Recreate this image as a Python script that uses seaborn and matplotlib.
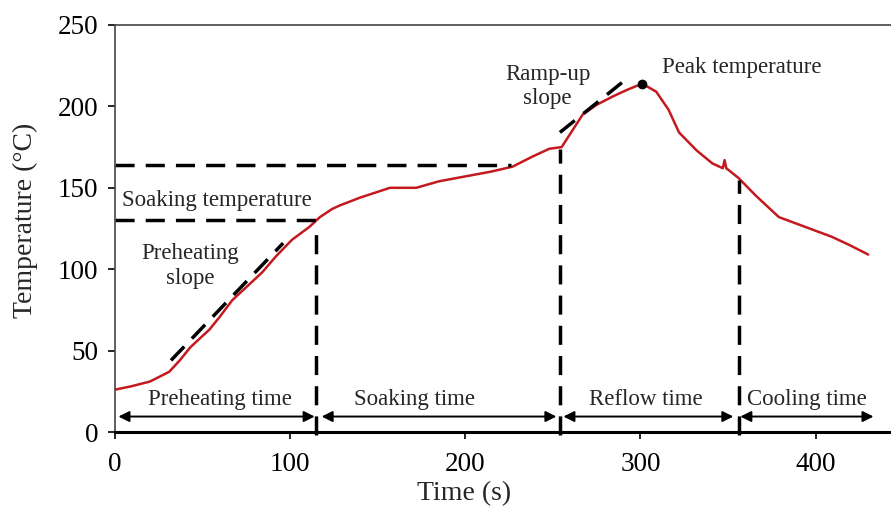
import matplotlib
matplotlib.use("Agg")
import matplotlib.pyplot as plt
import seaborn as sns
import pandas as pd

# reflow profile
time_s = [0, 9, 20, 31, 37, 43, 54, 60, 67, 77, 84, 92, 101, 111, 117, 124, 128, 140,
          157, 172, 185, 200, 215, 227, 238, 248, 255, 261, 267, 275, 284, 292, 301,
          309, 316, 322, 332, 341, 347, 348, 349, 356, 366, 379, 394, 409, 419, 430]
temp_c = [26, 28, 31, 37, 44, 52, 63, 71, 81, 91, 98, 108, 118, 126, 132, 137, 139, 144,
          150, 150, 154, 157, 160, 163, 169, 174, 175, 185, 195, 201, 206, 210, 214,
          209, 198, 184, 173, 165, 162, 167, 162, 156, 145, 132, 126, 120, 115, 109]

peak = (301, 214)
soak_levels = [130, 164]
soak_ends = [115, 226]
phase_bounds = [115, 254, 356]
phase_tops = [127, 174, 155]
preheat_slope = ([32, 96], [44, 116])
ramp_slope = ([254, 291], [184, 216])
phase_start = [2, 118, 256, 357]
phase_end = [114, 252, 353, 433]
phase_labels = ["Preheating time", "Soaking time", "Reflow time", "Cooling time"]
phase_label_x = [60, 171, 303, 395]

sns.set_style("ticks")
plt.rcParams['font.family'] = ['Liberation Serif', 'DejaVu Serif']

df = pd.DataFrame({"time": time_s, "temp": temp_c})

fig = plt.figure(figsize=(8.91, 5.08), dpi=100)
ax = fig.add_axes([0.129, 0.1496, 0.871, 0.8012])

sns.lineplot(data=df, x="time", y="temp", color="#c41a1f", lw=1.8, sort=False, ax=ax)
ax.plot(*peak, 'o', color="black", ms=6)

dash = dict(color="black", lw=2.5, linestyle=(0, (5.5, 3.2)))
for lvl, end in zip(soak_levels, soak_ends):
    ax.plot([0, end], [lvl, lvl], **dash)
for xb, top in zip(phase_bounds, phase_tops):
    ax.plot([xb, xb], [-2, top], clip_on=False, **dash)
ax.plot(*preheat_slope, **dash)
ax.plot(*ramp_slope, **dash)

fs = 16.5
for s, e, lab, lx in zip(phase_start, phase_end, phase_labels, phase_label_x):
    ax.annotate("", xy=(e, 9.5), xytext=(s, 9.5),
                arrowprops=dict(arrowstyle="<|-|>", color="black", lw=1.4,
                                mutation_scale=16, shrinkA=0, shrinkB=0))
    ax.text(lx, 20, lab, ha="center", va="center", fontsize=fs)

ax.text(4, 142.5, "Soaking temperature", ha="left", va="center", fontsize=fs)
ax.text(43, 102, "Preheating\nslope", ha="center", va="center", fontsize=fs, linespacing=1.3)
ax.text(247, 212, "Ramp-up\nslope", ha="center", va="center", fontsize=fs, linespacing=1.2)
ax.text(312, 224, "Peak temperature", ha="left", va="center", fontsize=fs)

ax.set_xlim(0, 443)
ax.set_ylim(0, 250)
ax.set_xticks([0, 100, 200, 300, 400])
ax.set_yticks([0, 50, 100, 150, 200, 250])
ax.tick_params(labelsize=19.5, direction="out", length=5, width=1.2, colors="black")
ax.tick_params(axis="x", pad=9.5)
ax.tick_params(axis="y", pad=7)
ax.set_xlabel("Time (s)", fontsize=20)
ax.set_ylabel("Temperature (°C)", fontsize=20)
ax.xaxis.set_label_coords(0.45, -0.12)
ax.yaxis.set_label_coords(-0.099, 0.521)

ax.spines["right"].set_visible(False)
ax.spines["top"].set_color("#444444")
ax.spines["top"].set_linewidth(1.2)
ax.spines["left"].set_color("#444444")
ax.spines["left"].set_linewidth(1.2)
ax.spines["bottom"].set_color("black")
ax.spines["bottom"].set_linewidth(2.2)

fig.savefig("out.png", dpi=100)
